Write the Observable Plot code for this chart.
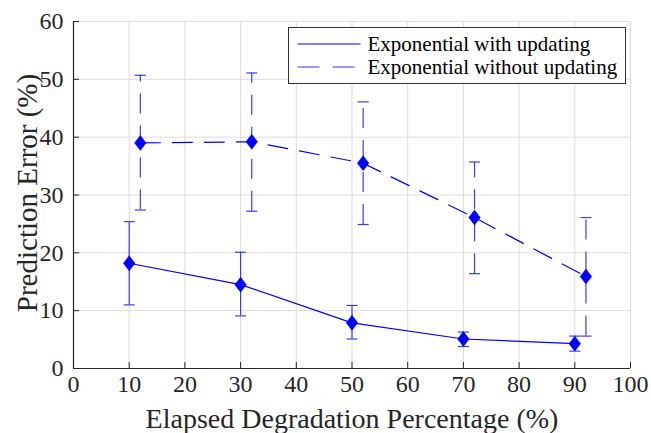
<!DOCTYPE html>
<html>
<head>
<meta charset="utf-8">
<script src="https://cdn.jsdelivr.net/npm/d3@7"></script>
<script src="https://cdn.jsdelivr.net/npm/@observablehq/plot@0.6"></script>
<style>
  html, body { margin: 0; padding: 0; background: #fff; }
  #chart { position: relative; width: 651px; height: 433px; }
  svg { font-family: "Liberation Serif", "DejaVu Serif", serif; }
</style>
</head>
<body>
<div id="chart"></div>
<script>
// Data
const seriesNames = ["Exponential with updating", "Exponential without updating"];
const xWith = [10, 30, 50, 70, 90];
const yWith = [18.2, 14.5, 7.9, 5.1, 4.3];
const loWith = [11.0, 9.1, 5.1, 3.8, 3.0];
const hiWith = [25.4, 20.1, 10.9, 6.3, 5.6];
const xWithout = [12, 32, 52, 72, 92];
const yWithout = [39.0, 39.2, 35.5, 26.1, 15.9];
const loWithout = [27.4, 27.2, 24.9, 16.4, 5.6];
const hiWithout = [50.7, 51.1, 46.1, 35.7, 26.1];
const xTicks = [0, 10, 20, 30, 40, 50, 60, 70, 80, 90, 100];
const yTicks = [0, 10, 20, 30, 40, 50, 60];
const xLabel = "Elapsed Degradation Percentage (%)";
const yLabel = "Prediction Error (%)";

const withData = xWith.map((x, i) => ({x, y: yWith[i], lo: loWith[i], hi: hiWith[i]}));
const withoutData = xWithout.map((x, i) => ({x, y: yWithout[i], lo: loWithout[i], hi: hiWithout[i]}));
const capsWith = withData.flatMap(d => [{x: d.x, y: d.lo}, {x: d.x, y: d.hi}]);
const capsWithout = withoutData.flatMap(d => [{x: d.x, y: d.lo}, {x: d.x, y: d.hi}]);

const blue = "#0000ff";
const errColor = "#3b3bff";
const dash = "20,12";
const textColor = "#262626";
const diamond = {
  draw(ctx) {
    ctx.moveTo(0, -7.5);
    ctx.lineTo(5.8, 0);
    ctx.lineTo(0, 7.5);
    ctx.lineTo(-5.8, 0);
    ctx.closePath();
  }
};
const capSymbol = {
  draw(ctx) {
    ctx.moveTo(-5.5, 0);
    ctx.lineTo(5.5, 0);
  }
};

const plot = Plot.plot({
  width: 651,
  height: 433,
  marginLeft: 73,
  marginRight: 21,
  marginTop: 21,
  marginBottom: 65,
  style: {fontFamily: "Liberation Serif, serif", fontSize: "24px", color: textColor, background: "#fff"},
  x: {type: "linear", domain: [0, 100], ticks: xTicks},
  y: {type: "linear", domain: [0, 60], ticks: yTicks},
  marks: [
    Plot.gridX(xTicks, {stroke: "#dcdcdc", strokeOpacity: 1, strokeWidth: 1}),
    Plot.gridY(yTicks, {stroke: "#dcdcdc", strokeOpacity: 1, strokeWidth: 1}),
    // error bars
    Plot.ruleX(withData, {x: "x", y1: "lo", y2: "hi", stroke: errColor, strokeWidth: 1.2}),
    Plot.ruleX(withoutData, {x: "x", y1: "lo", y2: "hi", stroke: errColor, strokeWidth: 1.2, strokeDasharray: dash}),
    Plot.dot(capsWith, {x: "x", y: "y", symbol: capSymbol, stroke: errColor, fill: "none", strokeWidth: 1.2}),
    Plot.dot(capsWithout, {x: "x", y: "y", symbol: capSymbol, stroke: errColor, fill: "none", strokeWidth: 1.2}),
    // lines
    Plot.line(withData, {x: "x", y: "y", stroke: blue, strokeWidth: 1.2}),
    Plot.line(withoutData, {x: "x", y: "y", stroke: blue, strokeWidth: 1.2, strokeDasharray: dash}),
    Plot.dot(withData, {x: "x", y: "y", symbol: diamond, fill: blue, stroke: blue, strokeWidth: 0.5}),
    Plot.dot(withoutData, {x: "x", y: "y", symbol: diamond, fill: blue, stroke: blue, strokeWidth: 0.5}),
    Plot.axisX(xTicks, {anchor: "bottom", tickSize: -6, tickPadding: 12, stroke: textColor, fill: textColor, fontSize: 24, label: null}),
    Plot.axisY(yTicks, {anchor: "left", tickSize: -6, tickPadding: 16, stroke: textColor, fill: textColor, fontSize: 24, label: null}),
    Plot.ruleY([0], {stroke: textColor, strokeWidth: 1.2}),
    Plot.ruleX([0], {stroke: textColor, strokeWidth: 1.2}),
    Plot.text([xLabel], {frameAnchor: "bottom", textAnchor: "middle", lineAnchor: "bottom", dy: 59, fontSize: 28, fill: textColor}),
    Plot.text([yLabel], {frameAnchor: "left", textAnchor: "middle", lineAnchor: "bottom", rotate: -90, dx: -37, dy: -2, fontSize: 29, fill: textColor})
  ]
});

// Legend (inside plot area, top right)
const svg = d3.select(plot);
const lg = svg.append("g").attr("transform", "translate(288.5,27.5)");
lg.append("rect").attr("width", 337).attr("height", 56)
  .attr("fill", "#fff").attr("stroke", "#333").attr("stroke-width", 1);
const styles = [{dash: null}, {dash: "22,13"}];
seriesNames.forEach((name, i) => {
  const y = 16.5 + i * 23;
  lg.append("line").attr("x1", 9).attr("x2", 72).attr("y1", y).attr("y2", y)
    .attr("stroke", i === 0 ? blue : "#3b3bff").attr("stroke-width", 1.2)
    .attr("stroke-dasharray", styles[i].dash);
  lg.append("text").attr("x", 79).attr("y", y).attr("dy", "0.35em")
    .attr("text-anchor", "start")
    .attr("font-size", 21).attr("fill", "#000").text(name);
});

document.getElementById("chart").appendChild(plot);
</script>
</body>
</html>
